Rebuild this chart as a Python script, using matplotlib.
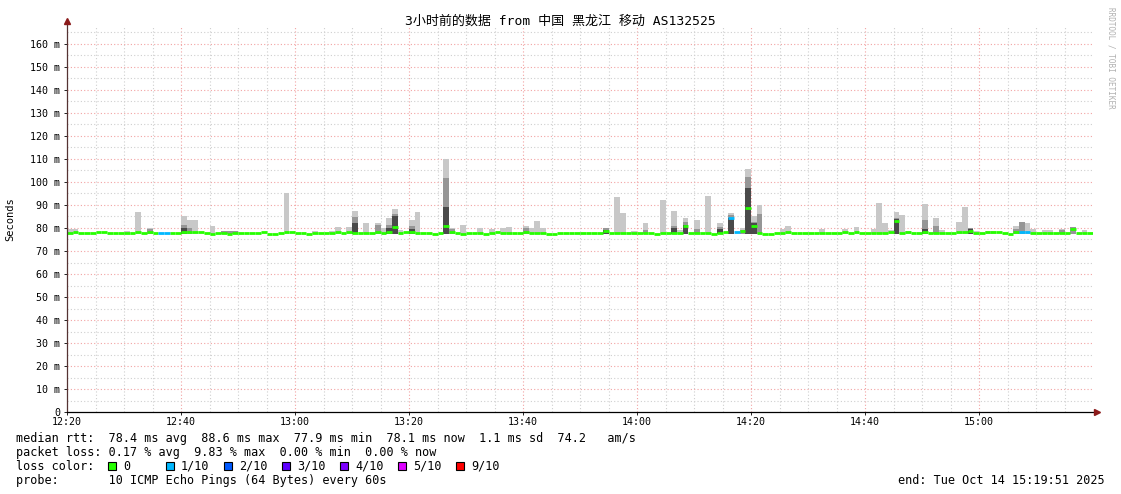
import matplotlib
matplotlib.use("Agg")
import matplotlib.pyplot as plt
from matplotlib.patches import Rectangle

plt.rcParams["font.family"] = ["DejaVu Sans Mono", "Noto Sans CJK SC"]

W, H = 1121, 494

# median rtt per minute (ms), 12:20 -> 15:20
median = [
    77.9, 78.3, 77.8, 77.8, 78.0, 78.2, 78.2, 77.9, 77.9, 77.9, 77.9, 77.9, 78.1, 77.9, 78.3, 77.9, 78.0, 78.0, 77.9, 77.9,
    78.3, 78.2, 78.3, 78.2, 77.9, 77.5, 77.8, 77.8, 77.5, 77.8, 77.8, 77.8, 77.9, 77.9, 78.3, 77.6, 77.6, 77.8, 78.2, 78.2,
    78.0, 77.7, 77.5, 78.0, 77.9, 77.9, 77.9, 78.2, 77.9, 78.3, 77.9, 77.9, 78.0, 77.8, 78.1, 78.0, 78.2, 80.6, 78.0, 78.2,
    78.4, 78.0, 77.9, 77.9, 77.6, 78.0, 81.0, 78.2, 77.9, 77.6, 78.0, 78.0, 78.0, 77.6, 77.9, 78.2, 78.0, 78.0, 78.0, 78.0,
    78.2, 78.0, 78.0, 77.9, 77.6, 77.6, 78.0, 77.9, 77.9, 77.9, 78.0, 78.0, 78.0, 78.0, 78.5, 77.8, 77.9, 78.0, 78.0, 77.9,
    77.9, 78.0, 77.8, 77.6, 78.0, 78.0, 78.0, 78.0, 81.0, 78.0, 78.0, 78.0, 78.0, 77.6, 78.0, 78.3, 84.2, 78.4, 78.5, 88.6,
    81.0, 78.0, 77.5, 77.6, 77.9, 78.0, 78.2, 78.0, 78.0, 77.9, 77.9, 77.7, 77.7, 77.9, 77.7, 77.9, 78.3, 77.7, 78.4, 77.9,
    78.0, 78.0, 78.0, 78.0, 78.3, 83.2, 77.9, 78.1, 77.9, 77.9, 78.2, 77.9, 78.0, 78.0, 77.7, 77.7, 78.2, 78.2, 78.7, 78.0,
    77.9, 78.1, 78.1, 78.1, 77.9, 77.6, 78.3, 78.4, 78.4, 78.0, 77.9, 77.9, 78.0, 78.0, 78.0, 77.8, 79.5, 77.9, 77.9, 77.9,
]

# minutes that lost 1 of 10 pings
loss_1_minutes = [16, 17, 116, 117, 167, 168]

# smoke: minute, top of light / medium / dark bands (0 = band absent)
smoke_minute = [0, 1, 10, 12, 14, 20, 21, 22, 25, 27,
                28, 29, 38, 43, 46, 47, 49, 50, 52, 54,
                55, 56, 57, 58, 60, 61, 66, 67, 69, 72,
                74, 76, 77, 80, 81, 82, 83, 94, 96, 97,
                99, 101, 104, 106, 107, 108, 110, 112, 114, 116,
                118, 119, 120, 121, 125, 126, 132, 136, 138, 141,
                142, 143, 144, 145, 146, 147, 150, 152, 153, 156,
                157, 158, 159, 161, 162, 166, 167, 168, 169, 171,
                172, 174, 176, 178]
smoke_top = [79.7, 79.7, 78.7, 87.0, 80.0, 85.2, 83.5, 83.5, 81.0, 78.7,
             78.7, 78.7, 95.2, 78.7, 78.7, 80.4, 80.4, 87.4, 82.0, 82.0,
             80.0, 84.5, 88.3, 79.0, 83.5, 87.0, 110.0, 80.0, 81.3, 80.0,
             79.5, 80.0, 80.4, 81.0, 80.0, 83.0, 80.0, 80.1, 93.6, 86.5,
             78.7, 82.2, 92.3, 87.4, 79.0, 84.5, 83.5, 94.0, 82.2, 86.5,
             80.0, 105.6, 85.0, 90.0, 79.6, 81.0, 79.6, 79.6, 80.4, 79.6,
             90.7, 82.0, 79.0, 86.8, 85.6, 78.7, 90.4, 84.5, 79.0, 82.7,
             89.0, 80.1, 78.7, 78.7, 78.7, 81.0, 82.5, 82.0, 79.6, 79.0,
             79.0, 79.6, 80.6, 79.0]
smoke_mid = [0, 0, 0, 0, 79.5, 81.5, 80.0, 0, 0, 78.6,
             78.6, 78.6, 0, 0, 0, 0, 0, 84.8, 0, 81.3,
             0, 81.5, 86.3, 0, 80.8, 0, 101.7, 79.5, 0, 0,
             0, 0, 0, 79.8, 0, 0, 0, 80.1, 0, 0,
             0, 79.0, 0, 81.0, 0, 82.5, 79.5, 0, 80.6, 85.5,
             79.0, 102.3, 82.5, 86.0, 0, 0, 0, 0, 0, 0,
             0, 0, 0, 84.5, 0, 0, 83.5, 81.0, 0, 0,
             0, 80.1, 0, 0, 0, 79.5, 82.5, 0, 0, 0,
             0, 79.0, 80.6, 0]
smoke_dark = [0, 0, 0, 0, 0, 80.0, 0, 0, 0, 0,
              0, 0, 0, 0, 0, 0, 0, 82.2, 0, 0,
              0, 80.0, 85.0, 0, 79.5, 0, 89.3, 0, 0, 0,
              0, 0, 0, 0, 0, 0, 0, 79.0, 0, 0,
              0, 0, 0, 80.0, 0, 81.5, 0, 0, 79.5, 84.5,
              0, 97.4, 82.0, 0, 0, 0, 0, 0, 0, 0,
              0, 0, 0, 83.8, 0, 0, 79.5, 0, 0, 0,
              0, 79.5, 0, 0, 0, 0, 0, 0, 0, 0,
              0, 0, 0, 0]
SMOKE_FLOOR = 77.5

time_ticks = [0, 20, 40, 60, 80, 100, 120, 140, 160]
time_labels = ["12:20", "12:40", "13:00", "13:20", "13:40", "14:00", "14:20", "14:40", "15:00"]

loss_labels = ["0", "1/10", "2/10", "3/10", "4/10", "5/10", "9/10"]
loss_colors = ["#26ff00", "#00b8ff", "#0059ff", "#5e00ff", "#7e00ff", "#dd00ff", "#ff0000"]

title = "3小时前的数据 from 中国 黑龙江 移动 AS132525"
stats_rtt = "median rtt:  78.4 ms avg  88.6 ms max  77.9 ms min  78.1 ms now  1.1 ms sd  74.2   am/s"
stats_loss = "packet loss: 0.17 % avg  9.83 % max  0.00 % min  0.00 % now"
probe = "probe:       10 ICMP Echo Pings (64 Bytes) every 60s"
end = "end: Tue Oct 14 15:19:51 2025"


def fx(x):
    return x / W


def fy(y):
    return 1 - y / H


fig = plt.figure(figsize=(W / 100, H / 100), dpi=100)
fig.patch.set_facecolor("white")
ax = fig.add_axes([fx(67), fy(412), (1093 - 67) / W, (412 - 27) / H])
ax.set_xlim(0, 180)
ax.set_ylim(0, (412 - 27) / 2.3)

# grid: minor grey dots, major red dots
for m in range(5, 180, 5):
    c = "#f2a3a3" if m % 20 == 0 else "#cfcfcf"
    ax.axvline(m, color=c, lw=0.8, ls=(0, (1, 2)), zorder=0)
for v in range(5, 170, 5):
    c = "#f2a3a3" if v % 10 == 0 else "#cfcfcf"
    ax.axhline(v, color=c, lw=0.8, ls=(0, (1, 2)), zorder=0)

# smoke
for m, top, mid, dark in zip(smoke_minute, smoke_top, smoke_mid, smoke_dark):
    ax.bar(m, top - SMOKE_FLOOR, bottom=SMOKE_FLOOR, width=1, align="edge",
           color="#c8c8c8", lw=0, zorder=1)
    if mid:
        ax.bar(m, mid - SMOKE_FLOOR, bottom=SMOKE_FLOOR, width=1, align="edge",
               color="#969696", lw=0, zorder=2)
    if dark:
        ax.bar(m, dark - SMOKE_FLOOR, bottom=SMOKE_FLOOR, width=1, align="edge",
               color="#4a4a4a", lw=0, zorder=3)

# median line coloured by loss
for i, v in enumerate(median):
    col = loss_colors[1] if i in loss_1_minutes else loss_colors[0]
    ax.hlines(v, i, i + 1, color=col, lw=2.0, zorder=4)

ax.set_xticks(time_ticks)
ax.set_xticklabels(time_labels)
ax.set_yticks(range(0, 170, 10))
ax.set_yticklabels(["0"] + [f"{v} m" for v in range(10, 170, 10)])
ax.tick_params(axis="both", labelsize=7.2, length=2.5, width=0.6, pad=2.5, colors="black")
ax.tick_params(axis="x", pad=1.2)

for s in ["top", "right", "left", "bottom"]:
    ax.spines[s].set_visible(False)
ax.plot([0, 0], [0, 1 + 5 / 385], transform=ax.transAxes, color="#553333", lw=0.9, clip_on=False, zorder=5)
ax.plot([0, 1 + 3 / 1026], [0, 0], transform=ax.transAxes, color="black", lw=0.9, clip_on=False, zorder=5)
ax.plot([0], [1 + 6 / 385], marker="^", ms=4, color="#8b1a1a", transform=ax.transAxes, clip_on=False, zorder=6)
ax.plot([1 + 4 / 1026], [0], marker=">", ms=4, color="#8b1a1a", transform=ax.transAxes, clip_on=False, zorder=6)

fig.text(fx(560), fy(21), title, ha="center", va="center", fontsize=9.4)
fig.text(fx(10), fy(219), "Seconds", rotation=90, ha="center", va="center", fontsize=7.5)
fig.text(fx(1111), fy(58), "RRDTOOL / TOBI OETIKER", rotation=270, ha="center", va="center",
         fontsize=5.5, color="#b0b0b0")

fs = 8.5
fig.text(fx(16), fy(438), stats_rtt, ha="left", va="center", fontsize=fs)
fig.text(fx(16), fy(452), stats_loss, ha="left", va="center", fontsize=fs)
fig.text(fx(16), fy(466), "loss color:", ha="left", va="center", fontsize=fs)
for k, (lab, col) in enumerate(zip(loss_labels, loss_colors)):
    x0 = 108 + 58 * k
    fig.add_artist(Rectangle((fx(x0), fy(470)), 8 / W, 8 / H, transform=fig.transFigure,
                             facecolor=col, edgecolor="black", lw=0.8))
    fig.text(fx(x0 + 15), fy(466), lab, ha="left", va="center", fontsize=fs)
fig.text(fx(16), fy(480), probe, ha="left", va="center", fontsize=fs)
fig.text(fx(1105), fy(480), end, ha="right", va="center", fontsize=fs)

fig.savefig("out.png", dpi=100)
